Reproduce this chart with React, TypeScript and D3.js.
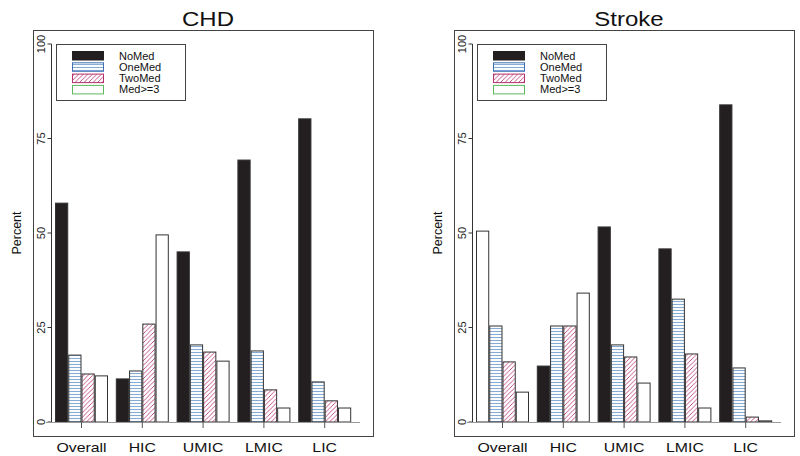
import React from "react";
import * as d3 from "d3";

const groups = ["Overall", "HIC", "UMIC", "LMIC", "LIC"];
const series = ["NoMed", "OneMed", "TwoMed", "Med>=3"];
const yTicks = [0, 25, 50, 75, 100];

const chdNoMed = [57.9, 11.4, 45.0, 69.3, 80.2];
const chdOneMed = [17.7, 13.5, 20.4, 18.8, 10.6];
const chdTwoMed = [12.7, 25.9, 18.5, 8.5, 5.6];
const chdMed3 = [12.2, 49.5, 16.1, 3.7, 3.7];

const strokeNoMed = [50.5, 14.8, 51.6, 45.8, 83.9];
const strokeOneMed = [25.4, 25.4, 20.4, 32.5, 14.3];
const strokeTwoMed = [15.9, 25.4, 17.2, 18.0, 1.3];
const strokeMed3 = [7.9, 34.1, 10.3, 3.7, 0.3];

const panels = [
  { title: "CHD", data: [chdNoMed, chdOneMed, chdTwoMed, chdMed3], whiteFirst: [] as number[] },
  { title: "Stroke", data: [strokeNoMed, strokeOneMed, strokeTwoMed, strokeMed3], whiteFirst: [0] },
];

const FONT = "'Liberation Sans', Arial, Helvetica, sans-serif";

const fills = ["#231f20", "url(#oneMed)", "url(#twoMed)", "#ffffff"];
const legendBorders = ["#231f20", "#3f70b3", "#b5306c", "#5cb85c"];

function Panel({ p, dx }: { p: (typeof panels)[number]; dx: number }) {
  const y = d3.scaleLinear().domain([0, 100]).range([422, 44]);
  const gx = d3
    .scaleBand<string>()
    .domain(groups)
    .range([55.5, 55.5 + 4 * 60.8 + 52])
    .paddingInner(1 - 52 / 60.8)
    .paddingOuter(0);
  const bx = d3
    .scaleBand<string>()
    .domain(series)
    .range([0, gx.bandwidth()])
    .paddingInner(1 / 13)
    .paddingOuter(0);

  return (
    <g transform={`translate(${dx},0)`}>
      {/* title */}
      <text
        x={208}
        y={26}
        textAnchor="middle"
        fontFamily={FONT}
        fontSize={20}
        transform="translate(208,0) scale(1.2,1) translate(-208,0)"
        fill="#111"
      >
        {p.title}
      </text>
      {/* outer box */}
      <rect x={33.5} y={30.5} width={340} height={406} fill="none" stroke="#444" strokeWidth={1} />
      {/* y label */}
      <text
        transform="translate(21,233) rotate(-90)"
        textAnchor="middle"
        fontFamily={FONT}
        fontSize={12.5}
        fill="#111"
      >
        Percent
      </text>
      {/* y axis */}
      <line x1={51.5} x2={51.5} y1={y(100)} y2={y(0)} stroke="#333" strokeWidth={1} />
      {yTicks.map((t) => (
        <g key={t}>
          <line x1={47.5} x2={51.5} y1={y(t)} y2={y(t)} stroke="#333" strokeWidth={1} />
          <text
            transform={`translate(45,${y(t)}) rotate(-90)`}
            textAnchor="middle"
            fontFamily={FONT}
            fontSize={11}
            fill="#222"
          >
            {t}
          </text>
        </g>
      ))}
      {/* bars */}
      {groups.map((g, gi) =>
        series.map((s, si) => {
          const v = p.data[si][gi];
          const x0 = (gx(g) as number) + (bx(s) as number);
          const isWhite = si === 0 && p.whiteFirst.includes(gi);
          return (
            <rect
              key={g + s}
              x={x0}
              y={y(v)}
              width={bx.bandwidth()}
              height={y(0) - y(v)}
              fill={isWhite ? "#ffffff" : fills[si]}
              stroke="#333"
              strokeWidth={1}
            />
          );
        })
      )}
      {/* x axis */}
      <line x1={46} x2={360} y1={422.5} y2={422.5} stroke="#999" strokeWidth={1.2} />
      {groups.map((g) => {
        const cx = (gx(g) as number) + gx.bandwidth() / 2;
        return (
          <g key={g}>
            <line x1={cx} x2={cx} y1={422} y2={428} stroke="#555" strokeWidth={1} />
            <text
              x={cx}
              y={452}
              textAnchor="middle"
              fontFamily={FONT}
              fontSize={13}
              transform={`translate(${cx},0) scale(1.22,1) translate(${-cx},0)`}
              fill="#111"
            >
              {g}
            </text>
          </g>
        );
      })}
      {/* legend */}
      <rect x={56.5} y={44.5} width={129} height={56} fill="#fff" stroke="#444" strokeWidth={1} />
      {series.map((s, i) => (
        <g key={s}>
          <rect
            x={72.5}
            y={51.5 + i * 11.3}
            width={31}
            height={8.5}
            fill={fills[i]}
            stroke={legendBorders[i]}
            strokeWidth={1}
          />
          <text x={119} y={59.5 + i * 11.3} fontFamily={FONT} fontSize={11} fill="#111">
            {s}
          </text>
        </g>
      ))}
    </g>
  );
}

export default function App() {
  return (
    <svg
      width={800}
      height={456}
      style={{ position: "absolute", left: 0, top: 0, display: "block", background: "#fff" }}
    >
      <defs>
        <pattern id="oneMed" patternUnits="userSpaceOnUse" width={4} height={3}>
          <rect width={4} height={3} fill="#ffffff" />
          <line x1={0} x2={4} y1={1.5} y2={1.5} stroke="#86acd6" strokeWidth={1.1} />
        </pattern>
        <pattern id="twoMed" patternUnits="userSpaceOnUse" width={4.5} height={4.5}>
          <rect width={4.5} height={4.5} fill="#ffffff" />
          <path
            d="M0,4.5 L4.5,0 M-1,1 L1,-1 M3.5,5.5 L5.5,3.5"
            stroke="#c0407a"
            strokeWidth={0.9}
          />
        </pattern>
      </defs>
      <rect width={800} height={456} fill="#fff" />
      {panels.map((p, i) => (
        <Panel key={p.title} p={p} dx={i * 421} />
      ))}
    </svg>
  );
}
